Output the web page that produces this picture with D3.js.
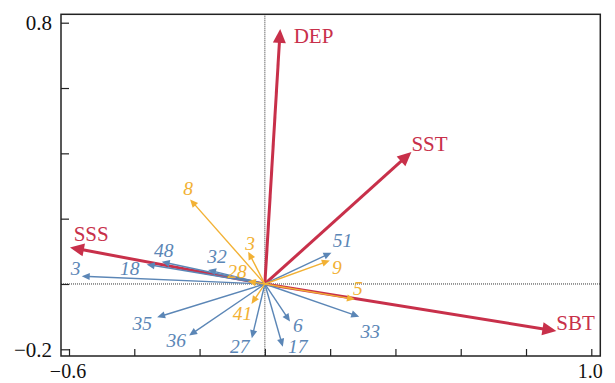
<!DOCTYPE html>
<html><head><meta charset="utf-8">
<script src="https://cdn.jsdelivr.net/npm/d3@7"></script>
<style>body{margin:0;background:#fff}svg{display:block}</style>
</head><body><svg id="c" width="615" height="383"></svg>
<script>
// ---- data ----
const envNames = ["DEP", "SST", "SBT", "SSS"];
const envX = [0.047, 0.449, 0.893, -0.597];
const envY = [0.781, 0.404, -0.144, 0.112];

const blueNames = ["3", "18", "48", "32", "51", "33", "6", "17", "27", "36", "35"];
const blueX = [-0.561, -0.362, -0.316, -0.174, 0.204, 0.289, 0.077, 0.055, -0.040, -0.232, -0.330];
const blueY = [0.024, 0.060, 0.068, 0.043, 0.096, -0.100, -0.115, -0.192, -0.166, -0.158, -0.102];

const yellowNames = ["8", "3", "28", "9", "5", "41"];
const yellowX = [-0.229, -0.051, -0.052, 0.199, 0.276, -0.041];
const yellowY = [0.259, 0.099, 0.008, 0.072, -0.047, -0.061];

const xTickValues = [-0.6, -0.4, -0.2, 0, 0.2, 0.4, 0.6, 0.8, 1.0];
const yTickValues = [-0.2, 0, 0.2, 0.4, 0.6, 0.8];
const xTickLabels = ["−0.6", "1.0"];
const yTickLabels = ["0.8", "−0.2"];

// ---- layout (label offsets in px, relative to arrow tip) ----
const envLabelOff = [[13.5, 14.5], [0, -1], [0, -1], [3.7, -6]];
const blueLabelOff = [[-6, -1], [-17, 11], [2, -5], [9, -7], [11, -6], [11, 21], [8, 10], [15, 6], [-12, 15], [-13, 11], [-15, 13]];
const yellowLabelOff = [[-2, -4], [2, -2], [-11, -3], [7, 14], [3, -4], [-9, 16]];

const RED = "#c8304a", BLUE = "#5b86b6", YEL = "#f2b134";

const svg = d3.select("#c");
const x = d3.scaleLinear().domain([-0.6, 1.0]).range([69, 591.3]);
const y = d3.scaleLinear().domain([-0.2, 0.8]).range([349.3, 22.7]);
const fx = [x.invert(61), x.invert(600.3)];
const fy = [y.invert(356), y.invert(14.3)];

// zero lines
svg.append("line").attr("x1", x(0)).attr("x2", x(0)).attr("y1", y(fy[1])).attr("y2", y(fy[0]))
  .attr("stroke", "#333").attr("stroke-width", 1).attr("stroke-dasharray", "1,1");
svg.append("line").attr("x1", x(fx[0])).attr("x2", x(fx[1])).attr("y1", y(0)).attr("y2", y(0))
  .attr("stroke", "#333").attr("stroke-width", 1).attr("stroke-dasharray", "1,1");

// ticks (inward)
svg.append("g").attr("transform", `translate(0,${y(fy[0])})`)
  .call(d3.axisTop(x).tickValues(xTickValues).tickSize(7).tickFormat(""))
  .call(g => { g.select(".domain").remove(); g.selectAll("line").attr("stroke", "#222").attr("stroke-width", 1.2); });
svg.append("g").attr("transform", `translate(${x(fx[0])},0)`)
  .call(d3.axisRight(y).tickValues(yTickValues).tickSize(8).tickFormat(""))
  .call(g => { g.select(".domain").remove(); g.selectAll("line").attr("stroke", "#222").attr("stroke-width", 1.2); });

// tick labels
const font = "'Liberation Serif','Times New Roman',serif";
[[-0.6, xTickLabels[0]], [1.0, xTickLabels[1]]].forEach(([v, t]) => {
  svg.append("text").attr("x", x(v) - 1).attr("y", 378).attr("text-anchor", "middle")
    .attr("font-family", font).attr("font-size", 20).attr("fill", "#111").text(t);
});
[[0.8, yTickLabels[0]], [-0.2, yTickLabels[1]]].forEach(([v, t]) => {
  svg.append("text").attr("x", 52).attr("y", y(v) + 7.5).attr("text-anchor", "end")
    .attr("font-family", font).attr("font-size", 21).attr("fill", "#111").text(t);
});

// frame
svg.append("rect").attr("x", x(fx[0])).attr("y", y(fy[1]))
  .attr("width", x(fx[1]) - x(fx[0])).attr("height", y(fy[0]) - y(fy[1]))
  .attr("fill", "none").attr("stroke", "#222").attr("stroke-width", 1.5);

function arrows(names, xs, ys, offs, color, lw, hl, hw, fs, italic) {
  const g = svg.append("g");
  names.forEach((n, i) => {
    const x0 = x(0), y0 = y(0), x1 = x(xs[i]), y1 = y(ys[i]);
    const a = Math.atan2(y1 - y0, x1 - x0);
    const bx = x1 - hl * Math.cos(a), by = y1 - hl * Math.sin(a);
    g.append("line").attr("x1", x0).attr("y1", y0).attr("x2", bx + 1 * Math.cos(a)).attr("y2", by + 1 * Math.sin(a))
      .attr("stroke", color).attr("stroke-width", lw);
    const px = -Math.sin(a) * hw, py = Math.cos(a) * hw;
    g.append("path").attr("d", `M${x1},${y1}L${bx + px},${by + py}L${bx - px},${by - py}Z`).attr("fill", color);
    const t = g.append("text").attr("x", x1 + offs[i][0]).attr("y", y1 + offs[i][1])
      .attr("font-family", font).attr("font-size", fs).attr("fill", color).text(n);
    if (italic) t.attr("text-anchor", "middle").attr("font-style", "italic");
  });
}
arrows(envNames, envX, envY, envLabelOff, RED, 3, 14, 6.5, 21, false);
arrows(blueNames, blueX, blueY, blueLabelOff, BLUE, 1.4, 8, 3.6, 19.5, true);
arrows(yellowNames, yellowX, yellowY, yellowLabelOff, YEL, 1.4, 8, 3.6, 19.5, true);
</script></body></html>
